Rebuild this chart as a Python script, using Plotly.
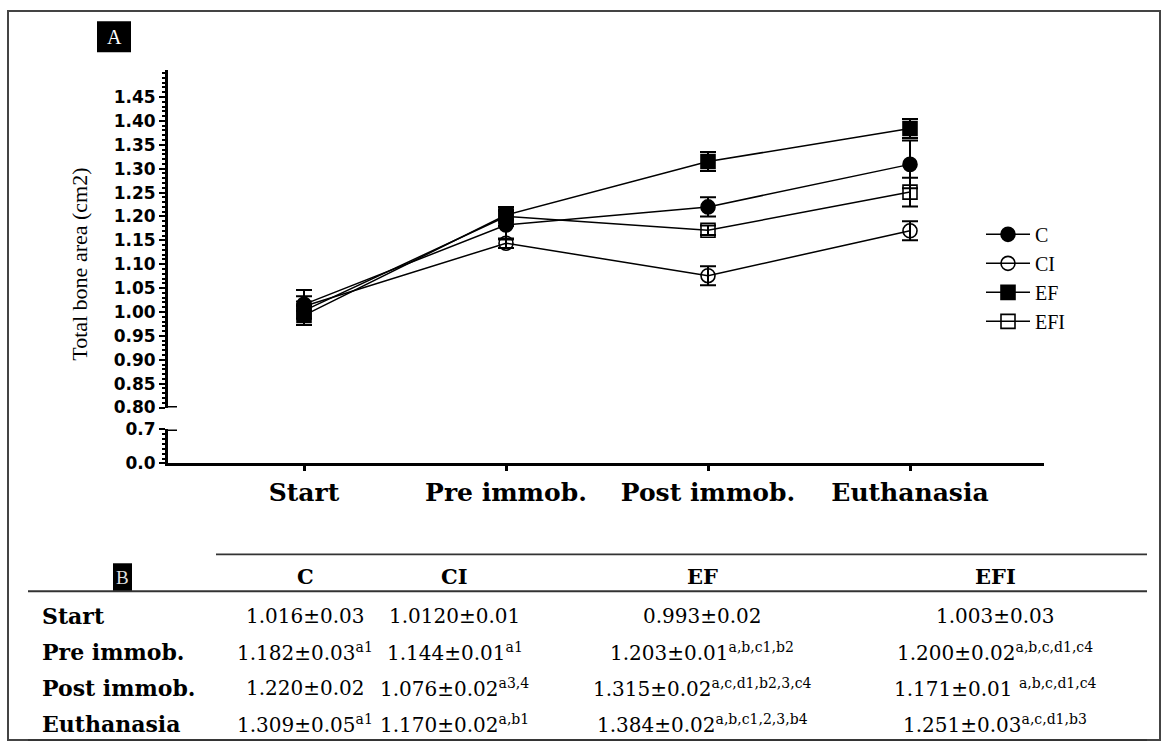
import plotly.graph_objects as go

# ---------------- data ----------------
timepoints = ["Start", "Pre immob.", "Post immob.", "Euthanasia"]
groups = ["C", "CI", "EF", "EFI"]

c_mean = [1.016, 1.182, 1.220, 1.309]
c_sem = [0.03, 0.03, 0.02, 0.05]
ci_mean = [1.012, 1.144, 1.076, 1.170]
ci_sem = [0.01, 0.01, 0.02, 0.02]
ef_mean = [0.993, 1.203, 1.315, 1.384]
ef_sem = [0.02, 0.01, 0.02, 0.02]
efi_mean = [1.003, 1.200, 1.171, 1.251]
efi_sem = [0.03, 0.02, 0.01, 0.03]

upper_ticks = [0.80, 0.85, 0.90, 0.95, 1.00, 1.05, 1.10, 1.15, 1.20, 1.25, 1.30, 1.35, 1.40, 1.45]
lower_ticks = [0.0, 0.7]
lower_ticktext = ["0.0", "0.7"]

# table text
c_text = ["1.016±0.03", "1.182±0.03", "1.220±0.02", "1.309±0.05"]
c_sup = ["", "a1", "", "a1"]
ci_text = ["1.0120±0.01", "1.144±0.01", "1.076±0.02", "1.170±0.02"]
ci_sup = ["", "a1", "a3,4", "a,b1"]
ef_text = ["0.993±0.02", "1.203±0.01", "1.315±0.02", "1.384±0.02"]
ef_sup = ["", "a,b,c1,b2", "a,c,d1,b2,3,c4", "a,b,c1,2,3,b4"]
efi_text = ["1.003±0.03", "1.200±0.02", "1.171±0.01 ", "1.251±0.03"]
efi_sup = ["", "a,b,c,d1,c4", "a,b,c,d1,c4", "a,c,d1,b3"]

# ---------------- layout helpers ----------------
W, H = 1168, 751
Y_OFF, Y_SCALE = 9.8, 0.975  # empirical vertical correction


def fx(p):
    return p / W


def fy(p):
    q = (p - Y_OFF) / Y_SCALE
    q = min(max(q, 1), H - 1)
    return 1 - q / H


X_LEFT, X_RIGHT = 168, 1044
START_PX, STEP_PX = 304, 202
x_range = [(X_LEFT - START_PX) / STEP_PX, (X_RIGHT - START_PX) / STEP_PX]

UP_TOP, UP_BOT = 70, 408
PX_PER_UNIT = 478.5
up_range = [0.80, 0.80 + (UP_BOT - UP_TOP) / PX_PER_UNIT]
LO_TOP, LO_BOT = 430, 464

fig = go.Figure()

series = [
    ("C", c_mean, c_sem, "circle"),
    ("CI", ci_mean, ci_sem, "circle-open"),
    ("EF", ef_mean, ef_sem, "square"),
    ("EFI", efi_mean, efi_sem, "square-open"),
]
for name, m, s, sym in series:
    fig.add_trace(go.Scatter(
        x=timepoints, y=m, name=name, mode="lines+markers",
        line=dict(color="black", width=1.5),
        marker=dict(symbol=sym, size=14, color="black",
                    line=dict(color="black", width=1.6)),
        error_y=dict(type="data", array=s, visible=True, color="black",
                     thickness=2, width=8),
        xaxis="x", yaxis="y",
    ))

axis_font_sans = dict(family="DejaVu Sans", size=17, color="black", weight="bold")

fig.update_layout(
    width=W, height=H, autosize=False,
    margin=dict(l=0, r=0, t=0, b=0),
    paper_bgcolor="white", plot_bgcolor="white",
    showlegend=True,
    legend=dict(x=fx(981), y=fy(215), xanchor="left", yanchor="top",
                font=dict(family="Liberation Serif", size=20, color="black"),
                bgcolor="rgba(0,0,0,0)", itemwidth=44, tracegroupgap=0),
    xaxis=dict(
        domain=[fx(X_LEFT), fx(X_RIGHT)], anchor="y2", type="category",
        categoryorder="array", categoryarray=timepoints,
        range=x_range, showline=True, linewidth=3, linecolor="black",
        ticks="outside", ticklen=5, tickwidth=2.5, tickcolor="black",
        showgrid=False, zeroline=False, ticklabelstandoff=0,
        tickfont=dict(family="DejaVu Serif", size=25, color="black", weight="bold"),
    ),
    yaxis=dict(
        domain=[fy(UP_BOT), fy(UP_TOP)], anchor="x", range=up_range,
        showline=True, linewidth=3, linecolor="black",
        tickvals=upper_ticks, tickformat=".2f",
        ticks="outside", ticklen=6, tickwidth=2, tickcolor="black",
        minor=dict(dtick=0.01, tick0=0.8, ticks="outside", ticklen=3,
                   tickwidth=1.5, tickcolor="black", showgrid=False),
        showgrid=False, zeroline=False, tickfont=axis_font_sans,
    ),
    yaxis2=dict(
        domain=[fy(LO_BOT), fy(LO_TOP)], anchor="x", range=[0, 0.7],
        showline=True, linewidth=3, linecolor="black",
        tickvals=lower_ticks, ticktext=lower_ticktext,
        ticks="outside", ticklen=6, tickwidth=2, tickcolor="black",
        minor=dict(dtick=0.1, tick0=0, ticks="outside", ticklen=3,
                   tickwidth=1.5, tickcolor="black", showgrid=False),
        showgrid=False, zeroline=False, tickfont=axis_font_sans,
    ),
)

shapes = []
# axis break caps
shapes.append(dict(type="line", xref="x domain", yref="y", x0=0, x1=9 / (X_RIGHT - X_LEFT),
                   y0=0.80, y1=0.80, line=dict(color="black", width=3)))
shapes.append(dict(type="line", xref="x domain", yref="y2", x0=0, x1=9 / (X_RIGHT - X_LEFT),
                   y0=0.7, y1=0.7, line=dict(color="black", width=3)))
# outer frame
shapes.append(dict(type="rect", xref="paper", yref="paper", x0=fx(8), x1=fx(1160),
                   y0=fy(760), y1=fy(5), line=dict(color="#444", width=2)))
# panel label boxes
shapes.append(dict(type="rect", xref="paper", yref="paper", x0=fx(97), x1=fx(131),
                   y0=fy(52), y1=fy(21), fillcolor="black", line=dict(width=0)))
shapes.append(dict(type="rect", xref="paper", yref="paper", x0=fx(113), x1=fx(132),
                   y0=fy(592), y1=fy(564), fillcolor="black", line=dict(width=0)))
# table rules
for y0, xa, xb in [(555, 216, 1147), (592, 28, 1147), (742, 28, 1147)]:
    shapes.append(dict(type="line", xref="paper", yref="paper", x0=fx(xa), x1=fx(xb),
                       y0=fy(y0), y1=fy(y0), line=dict(color="#333", width=1.8)))


def ann(text, x, y, font, xanchor="center", yanchor="middle", **kw):
    return dict(text=text, x=fx(x), y=fy(y), xref="paper", yref="paper",
                xanchor=xanchor, yanchor=yanchor, showarrow=False, font=font, **kw)


annotations = []
annotations.append(ann("A", 114, 37, dict(family="Liberation Serif", size=20, color="white")))
annotations.append(ann("B", 122.5, 578, dict(family="Liberation Serif", size=19, color="#ddd")))
annotations.append(ann("Total bone area (cm2)", 80, 265,
                       dict(family="Liberation Serif", size=22, color="black"), textangle=-90))

col_x = [305, 455, 702, 995]
row_y = [617, 653, 689, 725]
hdr_font = dict(family="DejaVu Serif", size=21, color="black", weight="bold")
lab_font = dict(family="DejaVu Serif", size=22, color="black", weight="bold")
val_font = dict(family="DejaVu Serif", size=20, color="black")
for gx, g in zip(col_x, groups):
    annotations.append(ann(g, gx, 577, hdr_font))
for ry, t in zip(row_y, timepoints):
    annotations.append(ann(t, 40, ry, lab_font, xanchor="left"))
for gx, texts, sups in zip(col_x, [c_text, ci_text, ef_text, efi_text], [c_sup, ci_sup, ef_sup, efi_sup]):
    for ry, t, s in zip(row_y, texts, sups):
        label = t + (f"<sup>{s}</sup>" if s else "")
        annotations.append(ann(label, gx, ry, val_font))

fig.update_layout(shapes=shapes, annotations=annotations)
fig.write_html("out.html", config={"displayModeBar": False},
               post_script="document.body.style.margin='0px';")
